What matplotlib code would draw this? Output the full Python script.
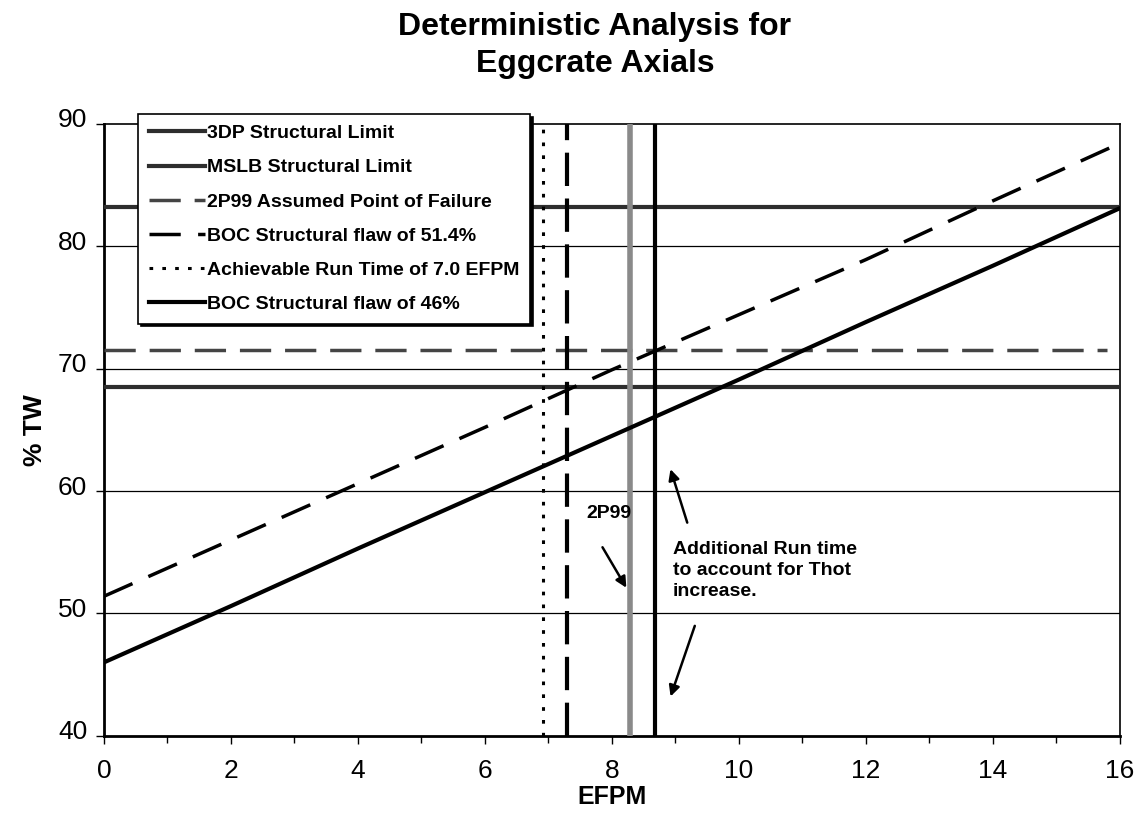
import matplotlib.pyplot as plt
import matplotlib.transforms as mtransforms
import numpy as np

plt.rcParams['font.family'] = ['Liberation Sans', 'DejaVu Sans']

# EFPM points along the two flaw growth lines (% TW)
efpm = [0, 2, 4, 6, 8, 10, 12, 14, 16]
flaw_46 = [46.0, 50.6, 55.3, 59.9, 64.5, 69.1, 73.8, 78.4, 83.1]
flaw_514 = [51.4, 56.0, 60.6, 65.2, 69.9, 74.4, 78.9, 83.7, 88.4]

# horizontal limits (% TW)
limit_3dp = 83.2
limit_mslb = 68.5
fail_2p99 = 71.5
fail_2p99_end = 15.8

# vertical markers (EFPM)
run_time = 6.92
boc_514_cross = 7.3
run_2p99 = 8.28
run_thot = 8.68

fig = plt.figure(figsize=(11.42, 8.14), dpi=100)
ax = fig.add_axes([0.091, 0.096, 0.8896, 0.752])

dark = '#2e2e2e'

# grid first so data lines sit on top
for y in [50, 60, 70, 80]:
    ax.axhline(y, color='black', lw=0.9, zorder=1)

l1, = ax.plot([0, 16], [limit_3dp, limit_3dp], color=dark, lw=3, zorder=3,
              label='3DP Structural Limit')
l2, = ax.plot([0, 16], [limit_mslb, limit_mslb], color=dark, lw=3, zorder=3,
              label='MSLB Structural Limit')
l3, = ax.plot([0, fail_2p99_end], [fail_2p99, fail_2p99], color='#444444', lw=2.5,
              dashes=(9, 4), zorder=3, label='2P99 Assumed Point of Failure')
l4, = ax.plot(efpm, flaw_514, color='black', lw=2.5, dashes=(9, 5), zorder=4,
              label='BOC Structural flaw of 51.4%')
l5, = ax.plot([run_time, run_time], [40, 90], color='black', lw=2.2,
              dashes=(1.2, 3), zorder=3, label='Achievable Run Time of 7.0 EFPM')
l6, = ax.plot(efpm, flaw_46, color='black', lw=3, zorder=4,
              label='BOC Structural flaw of 46%')

ax.plot([boc_514_cross, boc_514_cross], [40, 90], color='black', lw=3,
        dashes=(8, 3), zorder=3)
ax.plot([run_2p99, run_2p99], [40, 90], color='#8a8a8a', lw=4, zorder=3)
ax.plot([run_thot, run_thot], [40, 90], color='black', lw=3, zorder=3)

ax.set_xlim(0, 16)
ax.set_ylim(40, 90)
ax.set_xticks(np.arange(0, 17, 2))
ax.set_xticks(np.arange(0, 17, 1), minor=True)
ax.set_yticks(np.arange(40, 91, 10))
ax.tick_params(axis='both', which='major', labelsize=19, length=6, width=1,
               direction='out')
ax.tick_params(axis='x', which='major', pad=11)
ax.tick_params(axis='y', which='major', pad=6)
ax.tick_params(axis='x', which='minor', length=5, width=1, direction='out')
# y labels sit a little above their gridlines in the original
shift = mtransforms.ScaledTranslation(0, 0.06, fig.dpi_scale_trans)
for lab in ax.get_yticklabels():
    lab.set_transform(lab.get_transform() + shift)
for s in ax.spines.values():
    s.set_linewidth(1.2)
ax.spines['left'].set_linewidth(2)
ax.spines['bottom'].set_linewidth(2)

ax.set_xlabel('EFPM', fontsize=18, fontweight='bold', labelpad=1)
ax.set_ylabel('% TW', fontsize=19, fontweight='bold')
ax.yaxis.set_label_coords(-0.056, 0.5)
fig.suptitle('Deterministic Analysis for\nEggcrate Axials', x=0.521, y=0.985,
             fontsize=23, fontweight='bold', linespacing=1.3)

leg = ax.legend(handles=[l1, l2, l3, l4, l5, l6], loc='upper left',
                bbox_to_anchor=(0.0335, 1.016), frameon=True, fancybox=False,
                shadow={'color': 'black', 'alpha': 1}, edgecolor='black',
                framealpha=1, handlelength=2.9, handletextpad=0.1,
                labelspacing=0.85, borderpad=0.55, borderaxespad=0,
                prop={'weight': 'bold', 'size': 14})
leg.get_frame().set_linewidth(1.2)
leg.set_zorder(10)

# annotations
ax.text(7.6, 58.2, '2P99', fontsize=14, fontweight='bold', va='center')
ax.annotate('', xy=(8.25, 51.9), xytext=(7.83, 55.6),
            arrowprops=dict(arrowstyle='-|>', color='black', lw=1.8,
                            mutation_scale=16))
ax.text(8.96, 53.5, 'Additional Run time\nto account for Thot\nincrease.',
        fontsize=14, fontweight='bold', va='center', linespacing=1.28)
ax.annotate('', xy=(8.91, 62.0), xytext=(9.2, 57.2),
            arrowprops=dict(arrowstyle='-|>', color='black', lw=1.8,
                            mutation_scale=16))
ax.annotate('', xy=(8.91, 43.0), xytext=(9.32, 49.2),
            arrowprops=dict(arrowstyle='-|>', color='black', lw=1.8,
                            mutation_scale=16))

fig.savefig('out.png', dpi=100)
